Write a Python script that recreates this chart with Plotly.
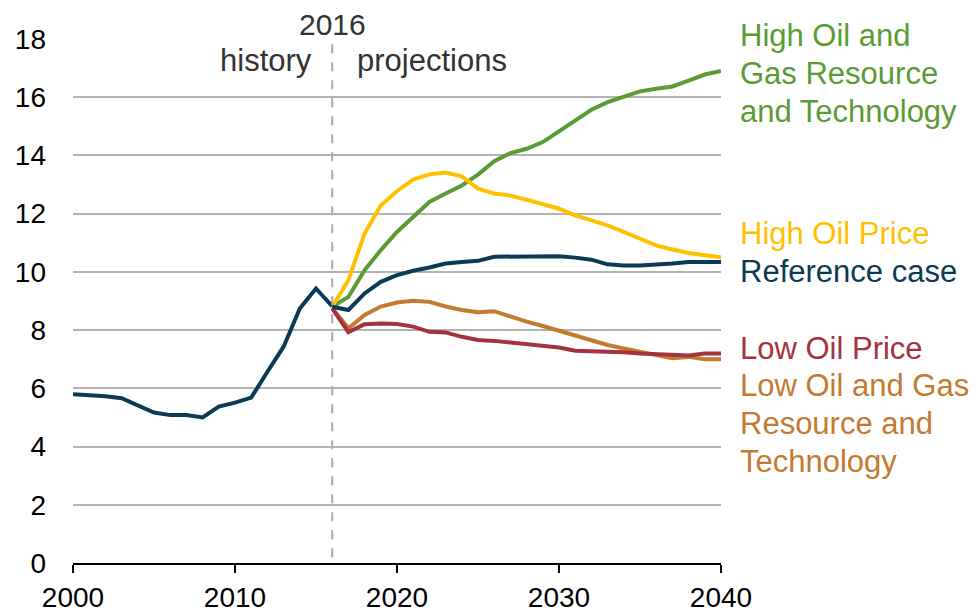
import plotly.graph_objects as go

# ---------------------------------------------------------
# DATA
# ---------------------------------------------------------
hist_years = list(range(2000, 2017))
history = [5.80, 5.78, 5.73, 5.66, 5.43, 5.17, 5.08, 5.08, 5.00, 5.37,
           5.51, 5.68, 6.57, 7.43, 8.74, 9.43, 8.82]

proj_years = list(range(2016, 2041))
high_resource = [8.80, 9.14, 10.06, 10.75, 11.37, 11.89, 12.40, 12.69, 12.97, 13.34,
                 13.80, 14.08, 14.23, 14.46, 14.84, 15.20, 15.57, 15.83, 16.03, 16.20,
                 16.29, 16.37, 16.57, 16.78, 16.90]
high_price = [8.80, 9.72, 11.32, 12.29, 12.77, 13.17, 13.35, 13.41, 13.28, 12.86,
              12.69, 12.62, 12.48, 12.31, 12.17, 11.94, 11.77, 11.60, 11.37, 11.14,
              10.91, 10.77, 10.65, 10.57, 10.50]
reference = [8.80, 8.69, 9.26, 9.66, 9.89, 10.04, 10.15, 10.29, 10.34, 10.38,
             10.52, 10.53, 10.54, 10.54, 10.54, 10.49, 10.42, 10.26, 10.22, 10.22,
             10.24, 10.29, 10.34, 10.34, 10.34]
low_price = [8.75, 7.93, 8.20, 8.23, 8.21, 8.12, 7.94, 7.92, 7.77, 7.66,
             7.63, 7.57, 7.51, 7.43, 7.40, 7.29, 7.28, 7.28, 7.24, 7.20,
             7.17, 7.13, 7.13, 7.20, 7.20]
low_resource = [8.75, 8.06, 8.52, 8.81, 8.95, 9.01, 8.97, 8.81, 8.69, 8.61,
                8.65, 8.46, 8.29, 8.14, 7.98, 7.83, 7.68, 7.49, 7.37, 7.26,
                7.14, 7.03, 7.08, 7.00, 7.00]

projection_start = 2016

# ---------------------------------------------------------
# SERIES STYLE
# ---------------------------------------------------------
GREEN = '#5B9B35'
YELLOW = '#FFC000'
NAVY = '#0B3B54'
RED = '#A5323F'
ORANGE = '#C47A30'

# (values, colour, label lines, label centre in data units)
series = [
    (high_resource, GREEN, ['High Oil and', 'Gas Resource', 'and Technology'], 16.8),
    (high_price, YELLOW, ['High Oil Price'], 11.33),
    (low_resource, ORANGE, ['Low Oil and Gas', 'Resource and', 'Technology'], 4.78),
    (low_price, RED, ['Low Oil Price'], 7.38),
    (reference, NAVY, ['Reference case'], 10.02),
]

FONT = 'Arial, Liberation Sans, sans-serif'
LINE_GAP = 38  # px between label lines

fig = go.Figure()

for values, color, lines, label_y in series:
    fig.add_trace(go.Scatter(
        x=proj_years, y=values, mode='lines',
        line=dict(color=color, width=4),
        showlegend=False, hoverinfo='skip'
    ))

fig.add_trace(go.Scatter(
    x=hist_years, y=history, mode='lines',
    line=dict(color=NAVY, width=4),
    showlegend=False, hoverinfo='skip'
))

# series labels on the right, one annotation per line
for values, color, lines, label_y in series:
    n = len(lines)
    for i, line in enumerate(lines):
        fig.add_annotation(
            x=2040, y=label_y, xref='x', yref='y',
            text=line, showarrow=False,
            xanchor='left', yanchor='middle', align='left',
            xshift=17, yshift=((n - 1) / 2 - i) * LINE_GAP,
            font=dict(family=FONT, size=31, color=color)
        )

# history / projections divider
fig.add_shape(
    type='line', xref='x', yref='y',
    x0=projection_start, x1=projection_start, y0=0.2, y1=18.1,
    line=dict(color='#AAAAAA', width=2, dash='dash')
)
fig.add_annotation(x=projection_start, y=1, xref='x', yref='paper',
                   text=str(projection_start), showarrow=False,
                   yanchor='bottom', yshift=-4,
                   font=dict(family=FONT, size=30, color='#333333'))
fig.add_annotation(x=projection_start, y=17.26, xref='x', yref='y',
                   text='history', showarrow=False,
                   xanchor='right', xshift=-18,
                   font=dict(family=FONT, size=31, color='#333333'))
fig.add_annotation(x=projection_start, y=17.26, xref='x', yref='y',
                   text='projections', showarrow=False,
                   xanchor='left', xshift=23,
                   font=dict(family=FONT, size=31, color='#333333'))

# page has an 8px body margin, so the figure is sized and offset for that
fig.update_layout(
    width=971, height=606,
    plot_bgcolor='white', paper_bgcolor='white',
    margin=dict(l=65, r=258, t=31, b=51),
    font=dict(family=FONT, size=28, color='#000000'),
    xaxis=dict(
        range=[2000, 2040], tickvals=[2000, 2010, 2020, 2030, 2040],
        showgrid=False, zeroline=False, automargin=False,
        showline=True, linecolor='#000000', linewidth=2,
        ticks='outside', ticklen=8, tickwidth=2, tickcolor='#000000',
        ticklabelstandoff=0,
        tickfont=dict(family=FONT, size=28, color='#000000'),
        fixedrange=True
    ),
    yaxis=dict(
        range=[0, 18], tickvals=list(range(0, 19, 2)),
        showgrid=True, gridcolor='#B3B3B3', gridwidth=2,
        zeroline=False, showline=False, automargin=False,
        ticks='', ticklabelstandoff=26,
        tickfont=dict(family=FONT, size=28, color='#000000'),
        fixedrange=True
    ),
)

fig.write_html("out.html")
